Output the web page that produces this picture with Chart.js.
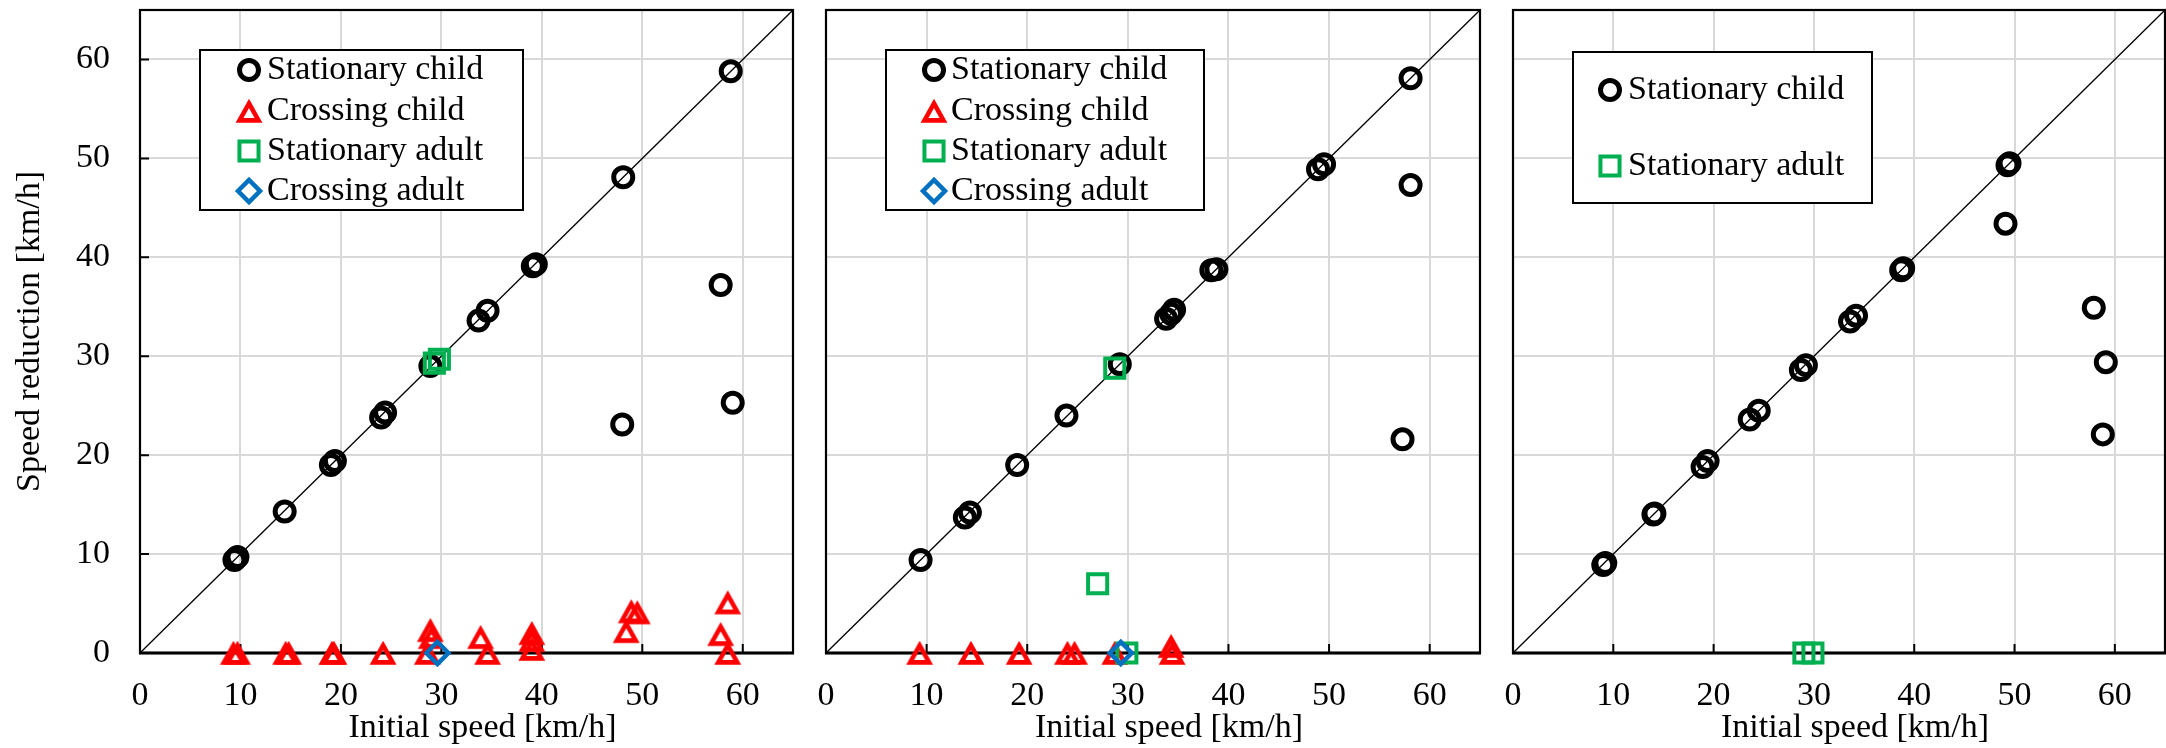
<!DOCTYPE html>
<html>
<head>
<meta charset="utf-8">
<script src="https://cdn.jsdelivr.net/npm/chart.js@4.4.1/dist/chart.umd.min.js"></script>
<style>
    body { margin: 0; background: #fff; width: 2166px; height: 748px; overflow: hidden; font-family: "Liberation Serif", "Times New Roman", serif; }
    .panel { position: absolute; top: 0; height: 748px; }
    #panel1 { left: 0; width: 800px; }
    #panel2 { left: 810px; width: 680px; }
    #panel3 { left: 1497px; width: 669px; }
    #precarga { position: absolute; left: -9999px; top: 0; font-size: 34px; }
</style>
</head>
<body>
<span id="precarga">Speed 0123456789</span>
<div class="panel" id="panel1"><canvas id="grafico1"></canvas></div>
<div class="panel" id="panel2"><canvas id="grafico2"></canvas></div>
<div class="panel" id="panel3"><canvas id="grafico3"></canvas></div>
<script>
// DATOS (velocidad inicial x, reducción de velocidad y) en km/h

// Panel izquierdo
const p1NinoQuietoX = [9.4, 9.7, 14.4, 19.0, 19.4, 24.0, 24.4, 28.9, 33.7, 34.6, 39.1, 39.4, 48.1, 58.8, 57.8, 59.0, 48.0];
const p1NinoQuietoY = [9.4, 9.7, 14.3, 19.0, 19.4, 23.8, 24.3, 29.0, 33.6, 34.6, 39.1, 39.3, 48.1, 58.8, 37.2, 25.3, 23.1];
const p1NinoCruzaX = [9.3, 9.7, 14.5, 14.8, 19.1, 19.3, 24.2, 28.6, 28.9, 29.0, 33.9, 34.6, 39.0, 39.0, 39.0, 48.4, 48.9, 49.5, 58.5, 57.8, 58.5];
const p1NinoCruzaY = [0, 0, 0, 0, 0, 0, 0, 0, 2.3, 1.6, 1.6, 0, 2.0, 1.3, 0.4, 2.2, 4.2, 4.1, 5.1, 1.9, 0];
const p1AdultoQuietoX = [29.3, 29.8];
const p1AdultoQuietoY = [29.3, 29.7];
const p1AdultoCruzaX = [29.6];
const p1AdultoCruzaY = [0];

// Panel central
const p2NinoQuietoX = [9.4, 13.8, 14.3, 19.0, 23.9, 29.2, 33.8, 34.3, 34.6, 38.3, 38.8, 48.9, 49.5, 58.1, 58.1, 57.3];
const p2NinoQuietoY = [9.4, 13.7, 14.2, 19.0, 24.0, 29.2, 33.8, 34.3, 34.7, 38.7, 38.8, 48.9, 49.4, 58.1, 47.3, 21.6];
const p2NinoCruzaX = [9.3, 14.4, 19.2, 24.0, 24.7, 28.7, 34.3, 34.4];
const p2NinoCruzaY = [0, 0, 0, 0, 0, 0, 0.7, 0];
const p2AdultoQuietoX = [28.7, 27.0, 29.9];
const p2AdultoQuietoY = [28.8, 7.0, 0];
const p2AdultoCruzaX = [29.3];
const p2AdultoCruzaY = [0];

// Panel derecho
const p3NinoQuietoX = [9.0, 9.2, 14.0, 14.1, 18.9, 19.4, 23.6, 24.5, 28.7, 29.2, 33.6, 34.2, 38.7, 38.9, 49.3, 49.5, 49.1, 57.9, 59.1, 58.8];
const p3NinoQuietoY = [8.9, 9.1, 14.0, 14.1, 18.8, 19.4, 23.6, 24.5, 28.6, 29.1, 33.5, 34.1, 38.7, 38.9, 49.3, 49.5, 43.4, 34.9, 29.4, 22.1];
const p3AdultoQuietoX = [29.0, 29.9];
const p3AdultoQuietoY = [0, 0];

// Linea y = x
const diagonal = [0, 65];
const ticksEje = [0, 10, 20, 30, 40, 50, 60];

const FUENTE = '"Liberation Serif", "Times New Roman", serif';
const SIN_RELLENO = 'rgba(0,0,0,0)';

// Triángulo centrado por su caja (como el marcador de Excel)
function crearTriangulo(color) {
    const c = document.createElement('canvas');
    c.width = 36;
    c.height = 34;
    const g = c.getContext('2d');
    g.strokeStyle = color;
    g.lineWidth = 4.6;
    g.lineJoin = 'miter';
    g.beginPath();
    g.moveTo(18, 9.4);
    g.lineTo(27.5, 26.4);
    g.lineTo(8.5, 26.4);
    g.closePath();
    g.stroke();
    return c;
}

const estilos = {
    ninoQuieto: { label: 'Stationary child', pointStyle: 'circle', radius: 9.5, ancho: 5, color: '#000000', orden: 5 },
    ninoCruza: { label: 'Crossing child', pointStyle: crearTriangulo('#FF0000'), radius: 12, ancho: 4.6, color: '#FF0000', orden: 4 },
    adultoQuieto: { label: 'Stationary adult', pointStyle: 'rect', radius: 13.5, ancho: 4, color: '#00B050', orden: 3 },
    adultoCruza: { label: 'Crossing adult', pointStyle: 'rectRot', radius: 11, ancho: 4.5, color: '#0070C0', orden: 2 }
};

function serie(tipo, xs, ys) {
    const e = estilos[tipo];
    return {
        label: e.label,
        data: xs.map((x, i) => ({ x: x, y: ys[i] })),
        pointStyle: e.pointStyle,
        pointRadius: e.radius,
        pointBorderWidth: e.ancho,
        pointBorderColor: e.color,
        pointBackgroundColor: SIN_RELLENO,
        borderColor: e.color,
        backgroundColor: SIN_RELLENO,
        order: e.orden,
        clip: false
    };
}

function lineaDiagonal() {
    return {
        label: 'y = x',
        data: diagonal.map(v => ({ x: v, y: v })),
        showLine: true,
        pointRadius: 0,
        borderColor: '#000000',
        borderWidth: 1.3,
        order: 6,
        enLeyenda: false
    };
}

// Marco del gráfico y marcas interiores de los ejes
const marcoPlugin = {
    id: 'marco',
    beforeDatasetsDraw(chart, args, opts) {
        const { ctx, chartArea: a, scales } = chart;
        ctx.save();
        ctx.strokeStyle = '#000';
        ctx.lineWidth = 2;
        ctx.beginPath();
        scales.x.ticks.forEach(t => {
            if (t.value === 0) return;
            const px = scales.x.getPixelForValue(t.value);
            ctx.moveTo(px, a.bottom);
            ctx.lineTo(px, a.bottom - 9);
        });
        if (opts.ticksY) {
            scales.y.ticks.forEach(t => {
                if (t.value === 0) return;
                const py = scales.y.getPixelForValue(t.value);
                ctx.moveTo(a.left, py);
                ctx.lineTo(a.left + 9, py);
            });
        }
        ctx.stroke();
        ctx.lineWidth = 2.2;
        ctx.strokeRect(a.left, a.top, a.right - a.left, a.bottom - a.top);
        ctx.lineWidth = 3;
        ctx.beginPath();
        ctx.moveTo(a.left - 1, a.bottom);
        ctx.lineTo(a.right + 1, a.bottom);
        ctx.stroke();
        ctx.restore();
    }
};

// Leyenda dentro del área del gráfico y título del eje x
const leyendaPlugin = {
    id: 'leyendaCaja',
    afterDatasetsDraw(chart, args, opts) {
        const { ctx, chartArea: a } = chart;
        const x0 = a.left + opts.dx;
        const y0 = a.top + opts.dy;
        ctx.save();
        ctx.fillStyle = '#fff';
        ctx.fillRect(x0, y0, opts.w, opts.h);
        ctx.strokeStyle = '#000';
        ctx.lineWidth = 2;
        ctx.strokeRect(x0, y0, opts.w, opts.h);

        const items = chart.data.datasets.filter(d => d.enLeyenda !== false);
        items.forEach((d, i) => {
            const yy = y0 + opts.filas[i];
            ctx.fillStyle = SIN_RELLENO;
            ctx.strokeStyle = d.pointBorderColor;
            ctx.lineWidth = d.pointBorderWidth;
            Chart.helpers.drawPoint(ctx, {
                pointStyle: d.pointStyle,
                radius: d.pointRadius,
                borderWidth: d.pointBorderWidth,
                rotation: 0
            }, x0 + opts.xMarca, yy);
            ctx.fillStyle = '#000';
            ctx.font = '34px ' + FUENTE;
            ctx.textAlign = 'left';
            ctx.textBaseline = 'middle';
            ctx.fillText(d.label, x0 + opts.xTexto, yy);
        });

        ctx.fillStyle = '#000';
        ctx.font = '34px ' + FUENTE;
        ctx.textAlign = 'center';
        ctx.textBaseline = 'middle';
        ctx.fillText('Initial speed [km/h]', (a.left + a.right) / 2 + 16, 728);
        ctx.restore();
    }
};

function crearGrafico(idCanvas, datasets, conf) {
    return new Chart(document.getElementById(idCanvas).getContext('2d'), {
        type: 'scatter',
        data: { datasets: datasets },
        options: {
            responsive: true,
            maintainAspectRatio: false,
            animation: false,
            events: [],
            layout: {
                autoPadding: false,
                padding: { top: 10, right: conf.derecha, bottom: 0, left: 0 }
            },
            plugins: {
                legend: { display: false },
                tooltip: { enabled: false },
                marco: { ticksY: conf.conEtiquetasY },
                leyendaCaja: conf.leyenda
            },
            scales: {
                x: {
                    type: 'linear',
                    min: 0,
                    max: 65,
                    afterBuildTicks: scale => { scale.ticks = ticksEje.map(v => ({ value: v })); },
                    afterFit: scale => {
                        scale.height = 95;
                        scale.paddingLeft = 0;
                        scale.paddingRight = 0;
                    },
                    grid: { color: '#D9D9D9', lineWidth: 2, drawTicks: false },
                    border: { display: false },
                    ticks: {
                        padding: 23,
                        color: '#000',
                        font: { family: FUENTE, size: 34 }
                    }
                },
                y: {
                    type: 'linear',
                    min: 0,
                    max: 65,
                    afterBuildTicks: scale => { scale.ticks = ticksEje.map(v => ({ value: v })); },
                    afterFit: scale => {
                        scale.width = conf.anchoY;
                        scale.paddingTop = 0;
                        scale.paddingBottom = 0;
                    },
                    grid: { color: '#D9D9D9', lineWidth: 2, drawTicks: false },
                    border: { display: false },
                    ticks: {
                        display: conf.conEtiquetasY,
                        padding: 30,
                        color: '#000',
                        font: { family: FUENTE, size: 34 }
                    },
                    title: {
                        display: conf.conEtiquetasY,
                        text: 'Speed reduction [km/h]',
                        color: '#000',
                        font: { family: FUENTE, size: 34 },
                        padding: { top: 10, bottom: 0 }
                    }
                }
            }
        },
        plugins: [marcoPlugin, leyendaPlugin]
    });
}

function dibujar() {
    // PANEL 1
    crearGrafico('grafico1', [
        lineaDiagonal(),
        serie('ninoQuieto', p1NinoQuietoX, p1NinoQuietoY),
        serie('ninoCruza', p1NinoCruzaX, p1NinoCruzaY),
        serie('adultoQuieto', p1AdultoQuietoX, p1AdultoQuietoY),
        serie('adultoCruza', p1AdultoCruzaX, p1AdultoCruzaY)
    ], {
        derecha: 7,
        anchoY: 140,
        conEtiquetasY: true,
        leyenda: { dx: 60, dy: 40, w: 323, h: 160, xMarca: 49, xTexto: 67, filas: [20, 61, 101, 141] }
    });

    // PANEL 2
    crearGrafico('grafico2', [
        lineaDiagonal(),
        serie('ninoQuieto', p2NinoQuietoX, p2NinoQuietoY),
        serie('ninoCruza', p2NinoCruzaX, p2NinoCruzaY),
        serie('adultoQuieto', p2AdultoQuietoX, p2AdultoQuietoY),
        serie('adultoCruza', p2AdultoCruzaX, p2AdultoCruzaY)
    ], {
        derecha: 10,
        anchoY: 16,
        conEtiquetasY: false,
        leyenda: { dx: 60, dy: 40, w: 318, h: 160, xMarca: 48, xTexto: 65, filas: [20, 61, 101, 141] }
    });

    // PANEL 3
    crearGrafico('grafico3', [
        lineaDiagonal(),
        serie('ninoQuieto', p3NinoQuietoX, p3NinoQuietoY),
        serie('adultoQuieto', p3AdultoQuietoX, p3AdultoQuietoY)
    ], {
        derecha: 1,
        anchoY: 16,
        conEtiquetasY: false,
        leyenda: { dx: 60, dy: 42, w: 299, h: 151, xMarca: 37, xTexto: 55, filas: [38, 114] }
    });
}

// Esperar a la fuente serif antes de dibujar en el canvas
if (document.fonts && document.fonts.load) {
    document.fonts.load('34px "Liberation Serif"').then(dibujar, dibujar);
} else {
    dibujar();
}
</script>
</body>
</html>
